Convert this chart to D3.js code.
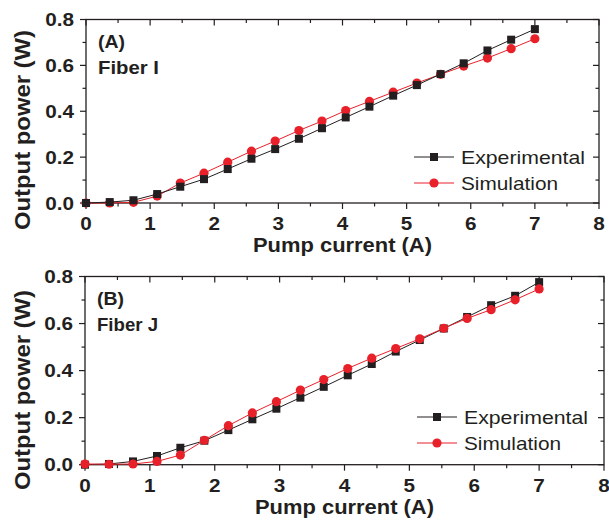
<!DOCTYPE html>
<html><head><meta charset="utf-8">
<script src="https://cdn.jsdelivr.net/npm/d3@7"></script>
<style>body{margin:0;background:#fff}svg{display:block}text{font-family:"Liberation Sans",Arial,sans-serif;fill:#231f20}</style>
</head><body><svg id="c" width="609" height="523"></svg>
<script>
const current = [0, 0.37, 0.74, 1.11, 1.47, 1.84, 2.21, 2.58, 2.95, 3.32, 3.68, 4.05, 4.42, 4.79, 5.16, 5.53, 5.89, 6.26, 6.63, 7.0];
const expA = [0, 0.004, 0.012, 0.039, 0.071, 0.104, 0.148, 0.193, 0.235, 0.280, 0.326, 0.373, 0.420, 0.468, 0.514, 0.562, 0.609, 0.665, 0.712, 0.758];
const simA = [0, 0.000, 0.003, 0.030, 0.087, 0.130, 0.178, 0.226, 0.270, 0.316, 0.357, 0.403, 0.443, 0.483, 0.523, 0.561, 0.597, 0.632, 0.673, 0.716];
const expB = [0, 0.003, 0.014, 0.037, 0.072, 0.102, 0.147, 0.193, 0.238, 0.285, 0.331, 0.380, 0.428, 0.481, 0.530, 0.579, 0.628, 0.678, 0.718, 0.776];
const simB = [0.003, 0.002, 0.003, 0.014, 0.041, 0.104, 0.166, 0.220, 0.268, 0.317, 0.362, 0.409, 0.453, 0.494, 0.535, 0.580, 0.622, 0.659, 0.701, 0.747];
const xTicks = [0, 1, 2, 3, 4, 5, 6, 7, 8];
const yTicks = [0.0, 0.2, 0.4, 0.6, 0.8];
const seriesNames = ["Experimental", "Simulation"];
const panelLabels = ["(A)", "(B)"];
const fiberLabels = ["Fiber I", "Fiber J"];
const xTitle = "Pump current (A)";
const yTitle = "Output power (W)";

const INK = "#231f20", RED = "#e8202a";
const svg = d3.select("#c");

function txt(g, x, y, s, o) {
  const t = g.append("text")
    .attr("transform", `translate(${x},${y})${o.rot ? " rotate(" + o.rot + ")" : ""} scale(${o.sx || 1},1)`)
    .attr("font-size", o.size).attr("font-weight", o.weight || "normal")
    .attr("text-anchor", o.anchor || "start").text(s);
  if (o.len) t.attr("textLength", o.len).attr("lengthAdjust", "spacingAndGlyphs");
  return t;
}

const panels = [
  {L: 86, R: 599, T: 19.5, B: 203, exp: expA, sim: simA, redTop: false, legY: 157, legX0: 414, yTitleC: 130},
  {L: 85, R: 604, T: 276.5, B: 464.7, exp: expB, sim: simB, redTop: true, legY: 417, legX0: 417, yTitleC: 390}
];

panels.forEach((p, i) => {
  const g = svg.append("g");
  const x = d3.scaleLinear().domain([0, 8]).range([p.L, p.R]);
  const y = d3.scaleLinear().domain([0, 0.8]).range([p.B, p.T]);
  const xMinor = d3.range(0, 8.01, 0.5), yMinor = d3.range(0, 0.801, 0.1);

  g.append("rect").attr("x", p.L).attr("y", p.T).attr("width", p.R - p.L).attr("height", p.B - p.T)
    .attr("fill", "none").attr("stroke", INK).attr("stroke-width", 1.3);
  xMinor.forEach(v => {
    const maj = Math.abs(v - Math.round(v)) < 1e-6, len = maj ? 6 : 3.5;
    g.append("line").attr("x1", x(v)).attr("x2", x(v)).attr("y1", p.B).attr("y2", p.B + len).attr("stroke", INK).attr("stroke-width", 1.2);
    g.append("line").attr("x1", x(v)).attr("x2", x(v)).attr("y1", p.T).attr("y2", p.T + len).attr("stroke", INK).attr("stroke-width", 1.2);
  });
  yMinor.forEach(v => {
    const maj = Math.abs(v * 5 - Math.round(v * 5)) < 1e-6, len = maj ? 6 : 3.5;
    g.append("line").attr("x1", p.L - len).attr("x2", p.L).attr("y1", y(v)).attr("y2", y(v)).attr("stroke", INK).attr("stroke-width", 1.2);
    g.append("line").attr("x1", p.R - len).attr("x2", p.R).attr("y1", y(v)).attr("y2", y(v)).attr("stroke", INK).attr("stroke-width", 1.2);
  });
  xTicks.forEach(v => txt(g, x(v), p.B + 27, String(v), {size: 18, weight: "bold", anchor: "middle", sx: 1.15}));
  yTicks.forEach(v => txt(g, p.L - 12, y(v) + 6.5, v.toFixed(1), {size: 18, weight: "bold", anchor: "end", sx: 1.15}));
  txt(g, (p.L + p.R) / 2, p.B + 49, xTitle, {size: 21, weight: "bold", anchor: "middle", len: 179});
  txt(g, 29.5, p.yTitleC, yTitle, {size: 22, weight: "bold", anchor: "middle", rot: -90, len: 200});
  txt(g, p.L + 12, p.T + 28.5, panelLabels[i], {size: 17.5, weight: "bold", len: 27});
  txt(g, p.L + 12, p.T + 54, fiberLabels[i], {size: 17.5, weight: "bold", len: 61});

  const line = d3.line().x((d, k) => x(current[k])).y(d => y(d));
  const drawExp = () => {
    g.append("path").attr("d", line(p.exp)).attr("fill", "none").attr("stroke", INK).attr("stroke-width", 1);
    g.selectAll(null).data(p.exp).enter().append("rect")
      .attr("x", (d, k) => x(current[k]) - 4).attr("y", d => y(d) - 4).attr("width", 8).attr("height", 8).attr("fill", INK);
  };
  const drawSim = () => {
    g.append("path").attr("d", line(p.sim)).attr("fill", "none").attr("stroke", RED).attr("stroke-width", 1);
    g.selectAll(null).data(p.sim).enter().append("circle")
      .attr("cx", (d, k) => x(current[k])).attr("cy", d => y(d)).attr("r", 4.6).attr("fill", RED);
  };
  if (p.redTop) { drawExp(); drawSim(); } else { drawSim(); drawExp(); }

  const lx0 = p.legX0, lx1 = p.legX0 + 40, mx = p.legX0 + 20;
  g.append("line").attr("x1", lx0).attr("x2", lx1).attr("y1", p.legY).attr("y2", p.legY).attr("stroke", INK).attr("stroke-width", 1);
  g.append("rect").attr("x", mx - 4).attr("y", p.legY - 4).attr("width", 8).attr("height", 8).attr("fill", INK);
  g.append("line").attr("x1", lx0).attr("x2", lx1).attr("y1", p.legY + 26).attr("y2", p.legY + 26).attr("stroke", RED).attr("stroke-width", 1);
  g.append("circle").attr("cx", mx).attr("cy", p.legY + 26).attr("r", 4.6).attr("fill", RED);
  txt(g, lx1 + 7, p.legY + 7, seriesNames[0], {size: 18.5, len: 124});
  txt(g, lx1 + 7, p.legY + 33, seriesNames[1], {size: 18.5, len: 97});
});
</script></body></html>
